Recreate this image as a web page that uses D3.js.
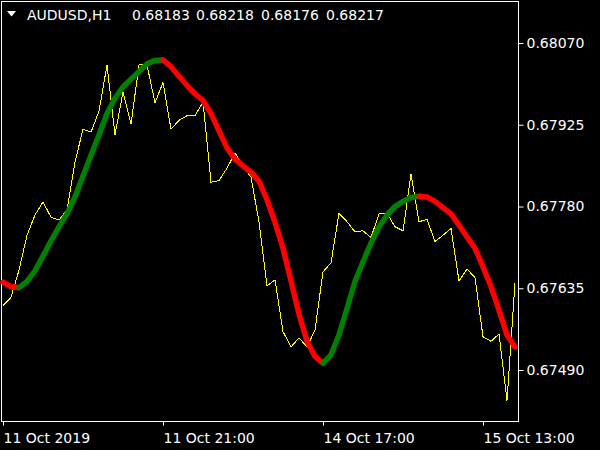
<!DOCTYPE html>
<html>
<head>
<meta charset="utf-8">
<script src="https://cdn.jsdelivr.net/npm/d3@7"></script>
<style>
  html, body { margin: 0; padding: 0; background: #000; }
  svg { display: block; }
  text { font-family: "DejaVu Sans", sans-serif; font-size: 14px; fill: #fff; }
</style>
</head>
<body>
<svg id="chart" width="600" height="450"></svg>
<script>
// ---- data ----
const symbol = "AUDUSD,H1";
const ohlc = ["0.68183", "0.68218", "0.68176", "0.68217"];

// hourly bars: day label, first hour, last hour
const sessions = [["11 Oct", 1, 23], ["14 Oct", 0, 23], ["15 Oct", 0, 17]];

// close prices (yellow line)
const closes = [
  0.67604, 0.67619, 0.67667, 0.67729, 0.67765, 0.67788, 0.67761, 0.67756, 0.67774, 0.67859,
  0.67917, 0.67912, 0.67949, 0.68031, 0.67907, 0.67983, 0.67926, 0.68031, 0.68031, 0.67964,
  0.68000, 0.67917, 0.67933, 0.67941, 0.67941, 0.67965, 0.67823, 0.67826, 0.67848, 0.67875,
  0.67852, 0.67832, 0.67753, 0.67639, 0.67650, 0.67558, 0.67531, 0.67547, 0.67531, 0.67561,
  0.67664, 0.67680, 0.67768, 0.67753, 0.67735, 0.67737, 0.67725, 0.67767, 0.67768, 0.67744,
  0.67737, 0.67837, 0.67753, 0.67757, 0.67718, 0.67729, 0.67741, 0.67648, 0.67669, 0.67654,
  0.67549, 0.67541, 0.67554, 0.67436, 0.67645
];

// smoothed indicator (thick line, green when rising, red when falling)
const indicator = [
  0.67646, 0.67638, 0.67636, 0.67647, 0.67666, 0.67692, 0.67719, 0.67744, 0.67767, 0.67797,
  0.67834, 0.67871, 0.67907, 0.67945, 0.67972, 0.67992, 0.68006, 0.68019, 0.68033, 0.68039,
  0.68040, 0.68028, 0.68011, 0.67995, 0.67980, 0.67968, 0.67945, 0.67914, 0.67884, 0.67864,
  0.67852, 0.67841, 0.67825, 0.67792, 0.67752, 0.67706, 0.67648, 0.67589, 0.67541, 0.67514,
  0.67502, 0.67517, 0.67552, 0.67599, 0.67647, 0.67682, 0.67715, 0.67744, 0.67765, 0.67780,
  0.67789, 0.67796, 0.67798, 0.67797, 0.67789, 0.67778, 0.67767, 0.67747, 0.67726, 0.67706,
  0.67673, 0.67638, 0.67596, 0.67552, 0.67531
];

const priceTicks = [0.68070, 0.67925, 0.67780, 0.67635, 0.67490];
const timeTickIdx = [0, 20, 40, 60];
const timeTickLabels = ["11 Oct 2019", "11 Oct 21:00", "14 Oct 17:00", "15 Oct 13:00"];

// ---- categories ----
const times = [];
sessions.forEach(([day, h0, h1]) => {
  for (let h = h0; h <= h1; h++) times.push(day + " " + String(h).padStart(2, "0") + ":00");
});

// ---- layout ----
const frame = { left: 1.5, top: 1.5, right: 518.5, bottom: 421.5 };
const svg = d3.select("#chart");
svg.append("rect").attr("width", 600).attr("height", 450).attr("fill", "#000");

const x = d3.scalePoint(times, [3, 515]);
const y = d3.scaleLinear([0.67490, 0.68070], [370, 43]);

// frame
svg.append("rect")
  .attr("x", frame.left).attr("y", frame.top)
  .attr("width", frame.right - frame.left).attr("height", frame.bottom - frame.top)
  .attr("fill", "none").attr("stroke", "#fff").attr("stroke-width", 1);

// right price axis
const yAxis = svg.append("g")
  .attr("transform", `translate(${frame.right},0)`)
  .call(d3.axisRight(y).tickValues(priceTicks).tickSize(5).tickPadding(3)
    .tickFormat(d3.format(".5f")));
yAxis.select(".domain").remove();
yAxis.selectAll("line").attr("stroke", "#fff");
yAxis.selectAll("text").attr("fill", "#fff").style("font-size", "14px")
  .style("font-family", '"DejaVu Sans", sans-serif');

// bottom time axis
const xAxis = svg.append("g")
  .attr("transform", `translate(0,${frame.bottom})`)
  .call(d3.axisBottom(x).tickValues(timeTickIdx.map(i => times[i])).tickSize(4).tickPadding(8)
    .tickFormat((d, i) => timeTickLabels[i]));
xAxis.select(".domain").remove();
xAxis.selectAll("line").attr("stroke", "#fff");
xAxis.selectAll("text").attr("fill", "#fff").attr("text-anchor", "start")
  .style("font-size", "14px").style("font-family", '"DejaVu Sans", sans-serif');

// close line
const line = d3.line().x((d, i) => x(times[i])).y(d => y(d));
svg.append("path")
  .datum(closes)
  .attr("d", line)
  .attr("fill", "none")
  .attr("stroke", "#ffff00")
  .attr("stroke-width", 1)
  .attr("shape-rendering", "crispEdges");

// indicator split into rising / falling runs
const runs = [];
for (let i = 1; i < indicator.length; i++) {
  const color = indicator[i] > indicator[i - 1] ? "#008000" : "#ff0000";
  const last = runs[runs.length - 1];
  if (last && last.color === color) last.idx.push(i);
  else runs.push({ color, idx: [i - 1, i] });
}
const ind = d3.line().x(i => x(times[i])).y(i => y(indicator[i]));
svg.append("g").selectAll("path")
  .data(runs)
  .join("path")
  .attr("d", r => ind(r.idx))
  .attr("fill", "none")
  .attr("stroke", r => r.color)
  .attr("stroke-width", 5.5)
  .attr("stroke-linejoin", "round")
  .attr("stroke-linecap", "round");

// title
svg.append("path").attr("d", "M7,11 L16,11 L11.5,16.5 Z").attr("fill", "#fff");
const title = svg.append("text").attr("y", 20);
title.append("tspan").attr("x", 27).text(symbol);
const ohlcX = [132, 196, 261, 326];
ohlc.forEach((v, i) => title.append("tspan").attr("x", ohlcX[i]).text(v));
</script>
</body>
</html>
